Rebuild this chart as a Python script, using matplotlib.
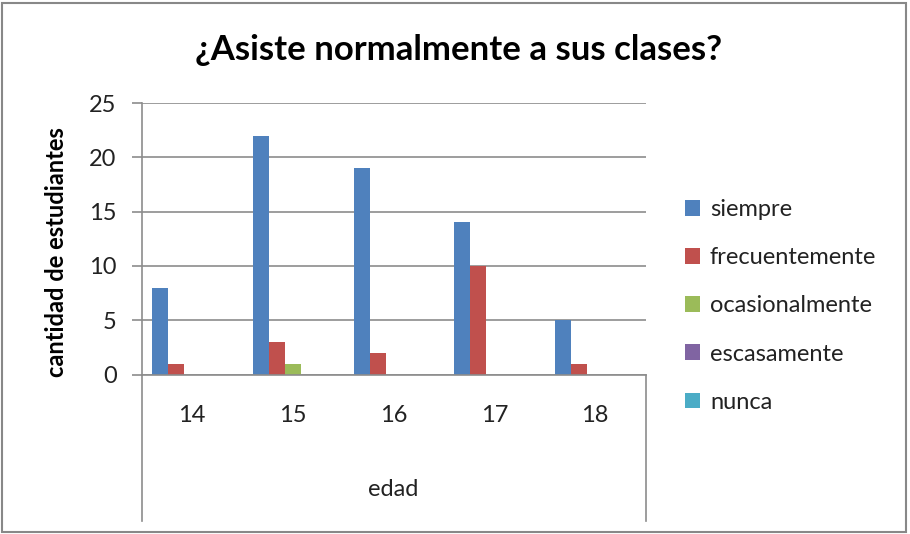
import matplotlib.pyplot as plt
import numpy as np
from matplotlib.patches import Rectangle

ages = ["14", "15", "16", "17", "18"]
series = ["siempre", "frecuentemente", "ocasionalmente", "escasamente", "nunca"]
siempre = [8, 22, 19, 14, 5]
frecuentemente = [1, 3, 2, 10, 1]
ocasionalmente = [0, 1, 0, 0, 0]
escasamente = [0, 0, 0, 0, 0]
nunca = [0, 0, 0, 0, 0]
values = [siempre, frecuentemente, ocasionalmente, escasamente, nunca]
colors = ["#4F81BD", "#C0504D", "#9BBB59", "#8064A2", "#4BACC6"]

plt.rcParams['font.family'] = ['Lato', 'DejaVu Sans']

W, H = 910, 534
fig = plt.figure(figsize=(W / 100, H / 100), dpi=100)
fig.patches.append(Rectangle((2 / W, 2 / H), 904 / W, 529 / H, transform=fig.transFigure,
                             fill=False, edgecolor="#888888", linewidth=1.5))

left, right, top, base = 141.5, 645.5, 103, 374.5
ax = fig.add_axes([left / W, 1 - base / H, (right - left) / W, (base - top) / H])

x = np.arange(len(ages))
bw = 0.158
for i, (name, vals) in enumerate(zip(series, values)):
    ax.bar(x + (i - 2) * bw, vals, width=bw, color=colors[i], label=name, zorder=3)

ax.set_xlim(-0.5, 4.5)
ax.set_ylim(0, 25)
ax.set_yticks(range(0, 26, 5))
ax.yaxis.grid(True, color="#8c8c8c", linewidth=1.2, zorder=0)
for s in ["top", "right", "bottom"]:
    ax.spines[s].set_visible(False)
ax.spines["left"].set_color("#8c8c8c")
ax.spines["left"].set_linewidth(1.2)
ax.tick_params(axis="y", length=7, width=1.2, color="#8c8c8c", labelsize=17, pad=11, labelcolor="#222222")
ax.set_xticks(x)
ax.set_xticklabels(ages)
ax.tick_params(axis="x", length=0, labelsize=17, pad=22, labelcolor="#222222")

# category axis frame below the baseline
trans = ax.get_xaxis_transform()
ax.plot([-0.5, 4.5], [0, 0], transform=trans, color="#8c8c8c", lw=1.2, clip_on=False, zorder=4)
ax.plot([-0.5, -0.5], [0, -146 / (base - top)], transform=trans, color="#8c8c8c", lw=1.2, clip_on=False)
ax.plot([4.5, 4.5], [0, -146 / (base - top)], transform=trans, color="#8c8c8c", lw=1.2, clip_on=False)

ax.set_xlabel("edad", fontsize=17, color="#222222")
ax.xaxis.set_label_coords(0.5, -(490 - base) / (base - top))
ax.xaxis.label.set_va("center")
ax.set_ylabel("cantidad de estudiantes", fontsize=17, fontweight="bold")
ax.yaxis.set_label_coords(-(left - 57) / (right - left), 0.45)
ax.yaxis.label.set_va("center")

fig.text(459 / W, 1 - 50 / H, "¿Asiste normalmente a sus clases?", fontsize=25,
         fontweight="bold", ha="center", va="center")

ax.legend(loc="upper left", bbox_to_anchor=(678 / W, 1 - 192 / H), bbox_transform=fig.transFigure,
          frameon=False, fontsize=17, handlelength=0.65, handleheight=0.65, handletextpad=0.4,
          labelspacing=1.15, labelcolor="#222222", borderaxespad=0, borderpad=0.3)

fig.savefig("out.png", dpi=100)
